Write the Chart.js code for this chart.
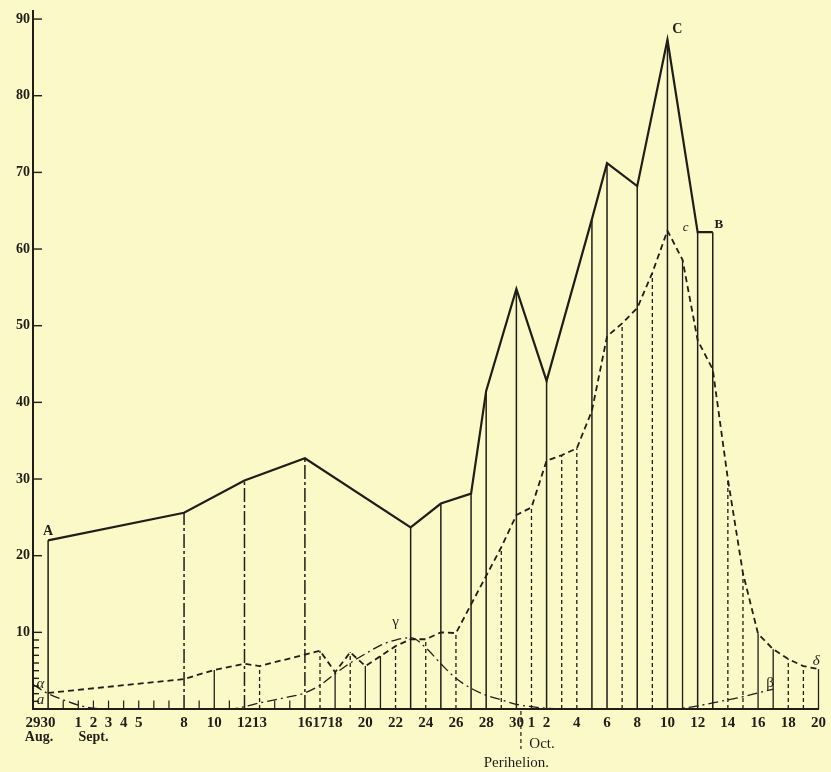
<!DOCTYPE html>
<html>
<head>
<meta charset="utf-8">
<script src="https://cdn.jsdelivr.net/npm/chart.js@4.4.1/dist/chart.umd.min.js"></script>
<style>
  html, body { margin: 0; padding: 0; background: #fbf9c8; }
  #wrap { width: 831px; height: 772px; }
</style>
</head>
<body>
<div id="wrap"><canvas id="comet"></canvas></div>
<script>
// ===== Days counted from Aug 29 (=0): Sept d = d+2, Oct d = d+32 =====
const tickDays = [0, 1, 3, 4, 5, 6, 7, 10, 12, 14, 15, 18, 19, 20, 22, 24, 26, 28, 30, 32, 33, 34, 36, 38, 40, 42, 44, 46, 48, 50, 52];
const tickLabels = ['29', '30', '1', '2', '3', '4', '5', '8', '10', '12', '13', '16', '17', '18', '20', '22', '24', '26', '28', '30', '1', '2', '4', '6', '8', '10', '12', '14', '16', '18', '20'];
const yTicks = [0, 10, 20, 30, 40, 50, 60, 70, 80, 90];

// upper curve A ... C ... B (solid)
const tailDays = [1, 10, 14, 18, 25, 27, 29, 30, 32, 34, 37, 38, 40, 42, 44, 45];
const tailVals = [22.0, 25.6, 29.8, 32.7, 23.7, 26.8, 28.1, 41.5, 54.8, 42.8, 63.9, 71.2, 68.2, 87.3, 62.2, 62.2];

// middle curve α ... c ... δ (dashed)
const midDays = [1, 10, 12, 14, 15, 19, 20, 21, 22, 23, 24, 25, 26, 27, 28, 31, 32, 33, 34, 35, 36, 37, 38, 39, 40, 41, 42, 43, 44, 45, 46, 47, 48, 49, 50, 51, 52];
const midVals = [2.1, 3.9, 5.1, 5.9, 5.6, 7.6, 4.8, 7.4, 5.6, 6.9, 8.2, 9.1, 9.1, 10.0, 9.9, 21.1, 25.3, 26.3, 32.4, 33.1, 34.0, 38.9, 48.6, 50.3, 52.3, 56.9, 62.4, 58.6, 48.1, 44.3, 30.0, 17.7, 9.8, 7.8, 6.5, 5.6, 5.2];

// lower curve a ... γ ... β (dash-dot)
const lowDays = [0, 1, 2, 3, 4, 5, 13, 14, 15, 16, 17, 18, 19, 20, 21, 22, 23, 24, 25, 26, 27, 28, 29, 30, 31, 32, 33, 34, 35, 42, 43, 44, 45, 46, 47, 48, 49];
const lowVals = [3.2, 2.0, 1.2, 0.5, 0.1, 0, 0, 0.3, 0.8, 1.2, 1.6, 2.1, 3.1, 4.6, 6.0, 7.2, 8.3, 9.0, 9.3, 8.0, 5.9, 4.0, 2.7, 1.8, 1.2, 0.6, 0.3, 0.1, 0, 0, 0.1, 0.4, 0.8, 1.2, 1.6, 2.1, 2.6];

// days with only a short mark on the base line
const shortTickDays = [2, 3, 4, 5, 6, 7, 8, 9, 11, 13, 16, 17];
// dashed-curve days whose vertical is drawn solid
const solidMidDays = [12, 20, 22, 23, 43, 48, 49, 52];
// upper-curve days whose vertical is broken
const brokenTailDays = [10, 14, 18];

const paper = '#fbf9c8';
const ink = '#1f1e18';
const serif = "'Liberation Serif', 'DejaVu Serif', serif";

// ===== Plugins =====
const paperBg = {
  id: 'paperBg',
  beforeDraw(chart) {
    const c = chart.ctx;
    c.save();
    c.fillStyle = paper;
    c.fillRect(0, 0, chart.width, chart.height);
    c.restore();
  }
};

// vertical lines from each observation down to the base line
const drops = {
  id: 'drops',
  beforeDatasetsDraw(chart) {
    const { ctx, scales: { x, y } } = chart;
    const base = y.getPixelForValue(0);
    const line = (day, top, dash, w) => {
      const px = x.getPixelForValue(day);
      ctx.save();
      ctx.strokeStyle = ink;
      ctx.lineWidth = w;
      ctx.setLineDash(dash);
      ctx.beginPath();
      ctx.moveTo(px, base);
      ctx.lineTo(px, y.getPixelForValue(top));
      ctx.stroke();
      ctx.restore();
    };
    tailDays.forEach((d, i) => line(d, tailVals[i], brokenTailDays.includes(d) ? [14, 3, 3, 3] : [], 1.5));
    midDays.forEach((d, i) => {
      if (tailDays.includes(d)) return;
      line(d, midVals[i], solidMidDays.includes(d) ? [] : [4, 3], 1.3);
    });
    shortTickDays.forEach(d => line(d, 1.1, [], 1.2));
  }
};

// inward ticks on the vertical axis, letters on the curves, month names
const marks = [
  ['A', 1, 23.2, 'bold 14px'],
  ['\u03b1', 0.5, 3.3, 'italic 15px'],
  ['a', 0.5, 1.2, 'italic 15px'],
  ['\u03b3', 24.0, 11.3, '15px'],
  ['C', 42.65, 88.7, 'bold 14px'],
  ['c', 43.2, 62.8, 'italic 13px'],
  ['B', 45.4, 63.2, 'bold 13px'],
  ['\u03b2', 48.8, 3.4, '15px'],
  ['\u03b4', 51.85, 6.3, 'italic 15px']
];
const below = [
  ['Aug.', 0.4, 28, 'bold 14px'],
  ['Sept.', 4.0, 28, 'bold 14px'],
  ['Oct.', 33.7, 35, '15px'],
  ['Perihelion.', 32.0, 54, '15px']
];

const extras = {
  id: 'extras',
  afterDraw(chart) {
    const { ctx, chartArea, scales: { x, y } } = chart;
    ctx.save();
    ctx.strokeStyle = ink;
    ctx.lineWidth = 1.4;
    for (let v = 1; v <= 90; v++) {
      if (v > 10 && v % 10) continue;
      const py = y.getPixelForValue(v);
      ctx.beginPath();
      ctx.moveTo(chartArea.left, py);
      ctx.lineTo(chartArea.left + (v % 10 ? 6 : 9), py);
      ctx.stroke();
    }
    // perihelion marker
    const ph = x.getPixelForValue(32.3);
    ctx.lineWidth = 1.2;
    ctx.setLineDash([4, 3]);
    ctx.beginPath();
    ctx.moveTo(ph, chartArea.bottom + 2);
    ctx.lineTo(ph, chartArea.bottom + 40);
    ctx.stroke();
    ctx.setLineDash([]);

    ctx.fillStyle = ink;
    ctx.textAlign = 'center';
    ctx.textBaseline = 'middle';
    marks.forEach(([t, d, v, f]) => {
      ctx.font = `${f} ${serif}`;
      ctx.fillText(t, x.getPixelForValue(d), y.getPixelForValue(v));
    });
    below.forEach(([t, d, dy, f]) => {
      ctx.font = `${f} ${serif}`;
      ctx.fillText(t, x.getPixelForValue(d), chartArea.bottom + dy);
    });
    ctx.restore();
  }
};

// ===== Chart =====
const pts = (days, vals) => days.map((d, i) => ({ x: d, y: vals[i] }));

new Chart(document.getElementById('comet'), {
  type: 'line',
  data: {
    datasets: [
      {
        data: pts(tailDays, tailVals),
        borderColor: ink,
        borderWidth: 2.2,
        pointRadius: 0,
        tension: 0
      },
      {
        data: pts(midDays, midVals),
        borderColor: ink,
        borderWidth: 1.8,
        borderDash: [6, 4],
        pointRadius: 0,
        tension: 0
      },
      {
        data: pts(lowDays, lowVals),
        borderColor: ink,
        borderWidth: 1.3,
        borderDash: [10, 4, 2, 4],
        pointRadius: 0,
        cubicInterpolationMode: 'monotone'
      }
    ]
  },
  options: {
    responsive: true,
    maintainAspectRatio: false,
    animation: false,
    layout: { padding: { top: 10, right: 9, left: 0, bottom: 0 } },
    plugins: { legend: { display: false }, tooltip: { enabled: false } },
    scales: {
      x: {
        type: 'linear',
        min: 0,
        max: 52,
        afterBuildTicks: scale => { scale.ticks = tickDays.map(v => ({ value: v })); },
        afterFit: scale => { scale.height = 63; },
        grid: { drawOnChartArea: false, drawTicks: false },
        border: { display: true, color: ink, width: 2 },
        ticks: {
          autoSkip: false,
          maxRotation: 0,
          minRotation: 0,
          padding: 5,
          color: ink,
          font: { family: serif, size: 15, weight: 'bold' },
          callback: v => tickLabels[tickDays.indexOf(v)] ?? ''
        }
      },
      y: {
        min: 0,
        max: 91,
        afterBuildTicks: scale => { scale.ticks = yTicks.map(v => ({ value: v })); },
        afterFit: scale => { scale.width = 33; },
        grid: { drawOnChartArea: false, drawTicks: false },
        border: { display: true, color: ink, width: 2 },
        ticks: {
          autoSkip: false,
          padding: 3,
          color: ink,
          font: { family: serif, size: 14, weight: 'bold' },
          callback: v => (v > 0 ? String(v) : '')
        }
      }
    }
  },
  plugins: [paperBg, drops, extras]
});
</script>
</body>
</html>
